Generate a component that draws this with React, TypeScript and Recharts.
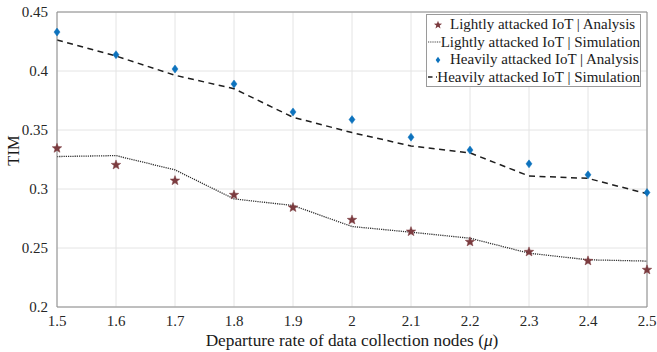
import React from 'react';
import {
  ComposedChart,
  Line,
  XAxis,
  YAxis,
  CartesianGrid,
  ReferenceLine,
  Label,
} from 'recharts';

// Departure rate of data collection nodes (mu)
const muValues = [1.5, 1.6, 1.7, 1.8, 1.9, 2.0, 2.1, 2.2, 2.3, 2.4, 2.5];

// TIM values for each scenario
const lightAnalysis = [0.3345, 0.3204, 0.3071, 0.295, 0.2843, 0.2738, 0.2639, 0.2552, 0.2467, 0.2391, 0.2315];
const lightSimulation = [0.3275, 0.3283, 0.3162, 0.2916, 0.286, 0.2682, 0.2634, 0.2583, 0.2456, 0.24, 0.2389];
const heavyAnalysis = [0.433, 0.4138, 0.4017, 0.389, 0.3653, 0.3588, 0.3439, 0.333, 0.3213, 0.312, 0.297];
const heavySimulation = [0.4263, 0.4127, 0.3964, 0.385, 0.3608, 0.3478, 0.3365, 0.3306, 0.311, 0.309, 0.296];

const xTicks = [1.5, 1.6, 1.7, 1.8, 1.9, 2, 2.1, 2.2, 2.3, 2.4, 2.5];
const yTicks = [0.2, 0.25, 0.3, 0.35, 0.4, 0.45];

const legendLabels = [
  'Lightly attacked IoT | Analysis',
  'Lightly attacked IoT | Simulation',
  'Heavily attacked IoT | Analysis',
  'Heavily attacked IoT | Simulation',
];

const STAR_COLOR = '#7b3b3f';
const DIAMOND_COLOR = '#0d72bd';
const AXIS_COLOR = '#8c8c8c';
const FONT = '"Liberation Serif", "Times New Roman", serif';

const rows = muValues.map((mu, i) => ({
  mu,
  lightAnalysis: lightAnalysis[i],
  lightSimulation: lightSimulation[i],
  heavyAnalysis: heavyAnalysis[i],
  heavySimulation: heavySimulation[i],
}));

function starPath(cx: number, cy: number, outer: number, inner: number) {
  let d = '';
  for (let k = 0; k < 10; k++) {
    const r = k % 2 === 0 ? outer : inner;
    const a = -Math.PI / 2 + (k * Math.PI) / 5;
    const x = cx + r * Math.cos(a);
    const y = cy + r * Math.sin(a);
    d += (k === 0 ? 'M' : 'L') + x.toFixed(2) + ',' + y.toFixed(2);
  }
  return d + 'Z';
}

const StarDot = (props: any) => {
  const { cx, cy, index } = props;
  if (cx == null || cy == null) return null;
  return <path key={`s${index}`} d={starPath(cx, cy, 5, 2.1)} fill={STAR_COLOR} stroke={STAR_COLOR} strokeWidth={0.5} />;
};

const DiamondDot = (props: any) => {
  const { cx, cy, index } = props;
  if (cx == null || cy == null) return null;
  const w = 3;
  const h = 4;
  return (
    <path
      key={`d${index}`}
      d={`M${cx},${cy - h}L${cx + w},${cy}L${cx},${cy + h}L${cx - w},${cy}Z`}
      fill={DIAMOND_COLOR}
      stroke={DIAMOND_COLOR}
      strokeWidth={0.5}
    />
  );
};

// x-axis title with an italic mu symbol
const XTitle = (props: any) => {
  const vb = props.viewBox || {};
  const cx = (vb.x ?? 0) + (vb.width ?? 0) / 2;
  const y = (vb.y ?? 0) + (vb.height ?? 0) - 6;
  return (
    <text x={cx} y={y} textAnchor="middle" fill="#1a1a1a" fontFamily={FONT} fontSize={17.3}>
      Departure rate of data collection nodes (<tspan fontStyle="italic">μ</tspan>)
    </text>
  );
};

const swatch = (i: number) => {
  if (i === 0)
    return (
      <svg width={20} height={16} style={{ display: 'block' }}>
        <path d={starPath(11, 8, 4.3, 1.8)} fill={STAR_COLOR} />
      </svg>
    );
  if (i === 2)
    return (
      <svg width={20} height={16} style={{ display: 'block' }}>
        <path d="M11,4.8L13.3,8L11,11.2L8.7,8Z" fill={DIAMOND_COLOR} />
      </svg>
    );
  if (i === 1)
    return (
      <svg width={20} height={16} style={{ display: 'block' }}>
        <line x1={1} y1={8} x2={20} y2={8} stroke="#444" strokeWidth={1.1} strokeDasharray="1 0.8" />
      </svg>
    );
  return (
    <svg width={20} height={16} style={{ display: 'block' }}>
      <line x1={1} y1={8} x2={20} y2={8} stroke="#222" strokeWidth={1.4} strokeDasharray="4.5 3.5" />
    </svg>
  );
};

const LegendBox = () => (
  <div
    style={{
      position: 'absolute',
      left: 426,
      top: 14,
      width: 215,
      height: 73,
      boxSizing: 'border-box',
      border: '1px solid #9a9a9a',
      background: '#fff',
      paddingTop: 1,
      fontFamily: FONT,
      fontSize: 15,
      color: '#1a1a1a',
      lineHeight: '17.5px',
    }}
  >
    {legendLabels.map((t, i) => (
      <div key={t} style={{ display: 'flex', alignItems: 'center', whiteSpace: 'nowrap', height: 17.5 }}>
        {swatch(i)}
        <span style={{ marginLeft: i === 0 || i === 2 ? 3 : 0 }}>{t}</span>
      </div>
    ))}
  </div>
);

export default function App() {
  return (
    <div style={{ position: 'absolute', left: 0, top: 0, width: 657, height: 352, background: '#fff' }}>
      <ComposedChart
        width={657}
        height={352}
        data={rows}
        margin={{ top: 12, right: 10, bottom: 0, left: 0 }}
      >
        <CartesianGrid stroke="#e4e4e4" strokeWidth={1} />
        <XAxis
          dataKey="mu"
          type="number"
          domain={[1.5, 2.5]}
          ticks={xTicks}
          tickFormatter={(v: number) => String(v)}
          stroke={AXIS_COLOR}
          tickLine={false}
          tick={{ fill: '#262626', fontFamily: FONT, fontSize: 15 }}
          tickMargin={2}
          height={45}
        >
          <Label content={<XTitle />} />
        </XAxis>
        <YAxis
          type="number"
          domain={[0.2, 0.45]}
          ticks={yTicks}
          tickFormatter={(v: number) => String(v)}
          stroke={AXIS_COLOR}
          tickLine={false}
          width={57}
          tick={{ fill: '#262626', fontFamily: FONT, fontSize: 15 }}
          tickMargin={3}
          allowDataOverflow
        >
          <Label
            value="TIM"
            angle={-90}
            position="insideLeft"
            offset={13}
            dy={-9}
            style={{ fill: '#1a1a1a', fontFamily: FONT, fontSize: 16.5, textAnchor: 'middle' }}
          />
        </YAxis>
        <ReferenceLine y={0.45} stroke={AXIS_COLOR} strokeWidth={1} />
        <ReferenceLine x={2.5} stroke={AXIS_COLOR} strokeWidth={1} />
        <Line
          dataKey="lightSimulation"
          stroke="#2e2e2e"
          strokeWidth={1.3}
          strokeDasharray="1.2 1"
          dot={false}
          activeDot={false}
          isAnimationActive={false}
        />
        <Line
          dataKey="heavySimulation"
          stroke="#1e1e1e"
          strokeWidth={1.5}
          strokeDasharray="6 4.5"
          dot={false}
          activeDot={false}
          isAnimationActive={false}
        />
        <Line
          dataKey="lightAnalysis"
          stroke="none"
          dot={<StarDot />}
          activeDot={false}
          isAnimationActive={false}
        />
        <Line
          dataKey="heavyAnalysis"
          stroke="none"
          dot={<DiamondDot />}
          activeDot={false}
          isAnimationActive={false}
        />
      </ComposedChart>
      <LegendBox />
    </div>
  );
}
